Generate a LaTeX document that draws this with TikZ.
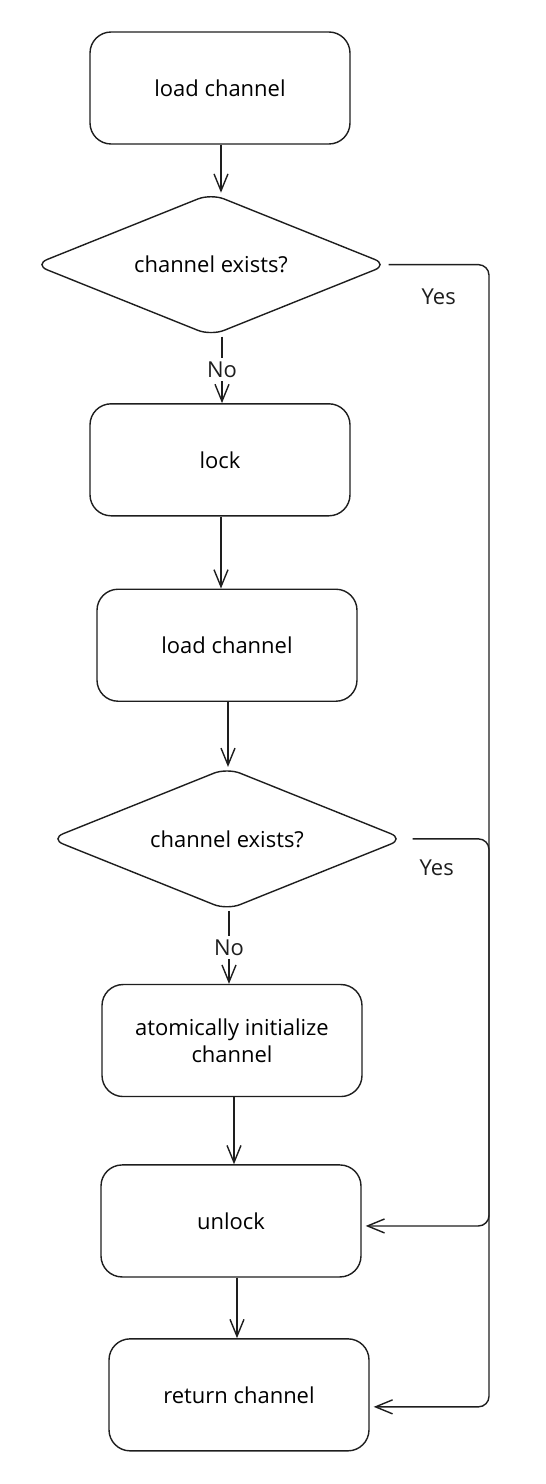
\documentclass[tikz,border=0pt]{standalone}
\usepackage{fontspec}
\setmainfont{Open Sans}
\definecolor{ink}{RGB}{30, 30, 30}
\usetikzlibrary{arrows.meta, positioning, shapes.geometric}
\tikzset{
	stepbox/.style={rectangle, rounded corners=12pt, draw=ink, line width=0.8pt, align=center, minimum width=5.2cm, minimum height=2.24cm, inner sep=0pt, font=\fontsize{12.5}{15.5}\selectfont},
	decision/.style={diamond, aspect=2.48, rounded corners=8pt, draw=ink, line width=0.8pt, align=center, minimum width=7.08cm, minimum height=2.85cm, inner sep=0pt, font=\fontsize{12.5}{15.5}\selectfont},
	arrow/.style={-{Straight Barb[length=3.4mm, width=2.8mm]}, line width=0.8pt, draw=ink},
	lbl/.style={fill=white, inner sep=2pt, text=ink, font=\fontsize{12.5}{15.5}\selectfont},
}
\begin{document}
\begin{tikzpicture}[node distance=1.4cm]
		\useasboundingbox (0,0) rectangle (10.92,-29.68);
		\node[stepbox] (load) at (4.4,-1.76) {load channel};
		\node[decision, below=0.96cm of load, xshift=-0.18cm] (exists) {channel exists?};
		\node[stepbox, below=1.33cm of exists, xshift=0.18cm] (lock) {lock};
		\node[stepbox, below=1.44cm of lock, xshift=0.14cm] (reload) {load channel};
		\node[decision, below=1.3cm of reload] (recheck) {channel exists?};
		\node[stepbox, below=1.46cm of recheck, xshift=0.1cm] (init) {atomically initialize\\channel};
		\node[stepbox, below=1.34cm of init, xshift=-0.02cm] (unlock) {unlock};
		\node[stepbox, below=1.21cm of unlock, xshift=0.16cm] (ret) {return channel};
		% entry points of the two "Yes" lines
		\coordinate (bus) at (9.78,0);
		\coordinate (retin) at ([yshift=-0.24cm, xshift=0.08cm]ret.east);
		\coordinate (unlockin) at ([yshift=-0.1cm, xshift=0.08cm]unlock.east);
		\coordinate (recheckout) at ([xshift=0.16cm]recheck.east);
		\draw[arrow] ([xshift=0.02cm]load.south) -- ([xshift=0.02cm]load.south |- exists.north);
		\draw[arrow] ([xshift=0.22cm]exists.south) -- node[lbl] {No} ([xshift=0.22cm]exists.south |- lock.north);
		\draw[arrow] ([xshift=0.02cm]lock.south) -- ([xshift=0.02cm]lock.south |- reload.north);
		\draw[arrow] ([xshift=0.02cm]reload.south) -- ([xshift=0.02cm]reload.south |- recheck.north);
		\draw[arrow] ([xshift=0.04cm]recheck.south) -- node[lbl] {No} ([xshift=0.04cm]recheck.south |- init.north);
		\draw[arrow] ([xshift=0.04cm]init.south) -- ([xshift=0.04cm]init.south |- unlock.north);
		\draw[arrow] ([xshift=0.12cm]unlock.south) -- ([xshift=0.12cm]unlock.south |- ret.north);
		\draw[arrow, rounded corners=6pt] (exists.east) -- (exists.east -| bus) -- (bus |- retin) -- (retin);
		\draw[arrow, rounded corners=6pt] (recheckout) -- (recheckout -| bus) -- (bus |- unlockin) -- (unlockin);
		\node[lbl, fill=none] (yes1) at ([xshift=1.0cm, yshift=-0.64cm]exists.east) {Yes};
		\node[lbl, fill=none] (yes2) at ([xshift=0.64cm, yshift=-0.58cm]recheck.east) {Yes};
	\end{tikzpicture}
\end{document}
